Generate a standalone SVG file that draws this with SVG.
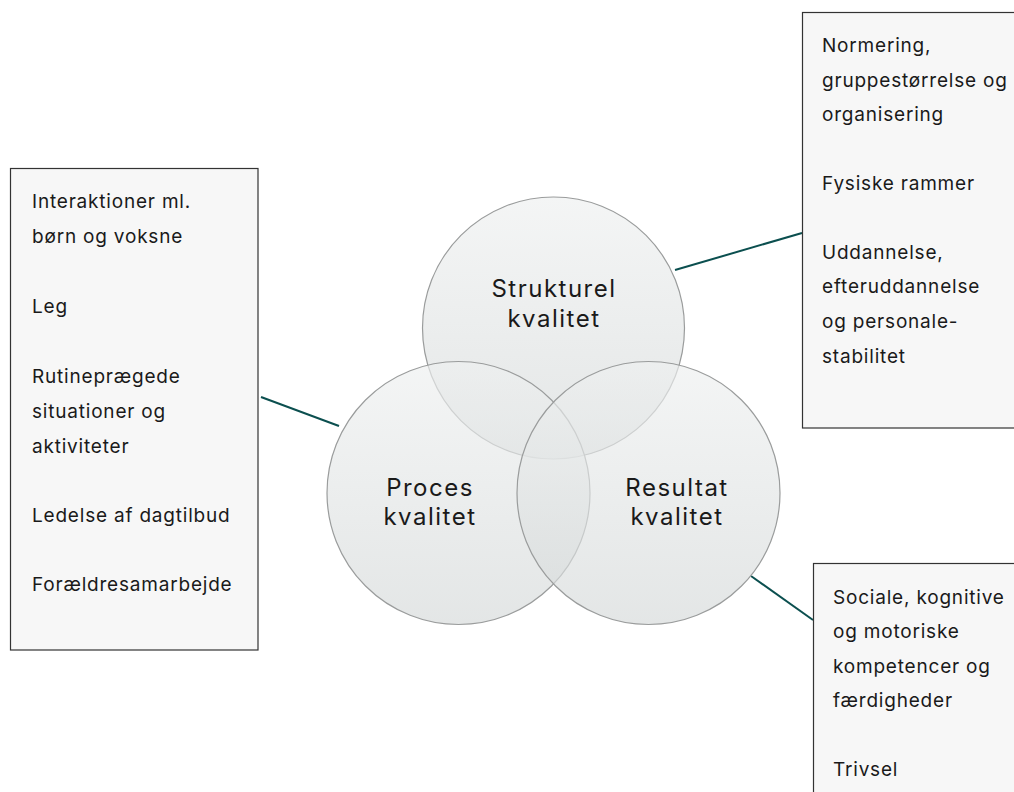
<svg xmlns="http://www.w3.org/2000/svg" width="1014" height="792" viewBox="0 0 1014 792">
<defs>
<linearGradient id="cg" x1="0" y1="0" x2="0" y2="1">
<stop offset="0" stop-color="#eef0f0"/>
<stop offset="1" stop-color="#d5d9d9"/>
</linearGradient>
<style>
.box{fill:#f7f7f7;stroke:#333;stroke-width:1.2}
.circ{fill:url(#cg);fill-opacity:0.66;stroke:#9a9c9c;stroke-width:1.2}
.bt{font-family:Inter,"Liberation Sans",sans-serif;font-size:19px;letter-spacing:0.8px;fill:#1a1a1a}
.ct{font-family:Inter,"Liberation Sans",sans-serif;font-size:24px;fill:#1a1a1a;text-anchor:middle;letter-spacing:1.5px}
.conn{stroke:#0b4f4f;stroke-width:2;fill:none}
</style>
</defs>
<rect width="1014" height="792" fill="#ffffff"/>
<g id="connectors">
<line class="conn" x1="261" y1="397" x2="339" y2="426"/>
<line class="conn" x1="675" y1="270" x2="802" y2="233"/>
<line class="conn" x1="751" y1="576" x2="813" y2="620"/>
</g>
<g id="strukturel">
<circle class="circ" cx="553.5" cy="328" r="131"/>
</g>
<g id="proces">
<circle class="circ" cx="458.5" cy="493" r="131.5"/>
</g>
<g id="resultat">
<circle class="circ" cx="648.5" cy="493" r="131.5"/>
</g>
<g id="labels">
<text class="ct" x="554" y="297">Strukturel</text>
<text class="ct" x="554" y="327">kvalitet</text>
<text class="ct" x="430" y="496">Proces</text>
<text class="ct" x="430" y="525">kvalitet</text>
<text class="ct" x="677" y="496">Resultat</text>
<text class="ct" x="677" y="525">kvalitet</text>
</g>
<g id="box-proces">
<rect class="box" x="10.5" y="168.5" width="247.5" height="481.5"/>
<text class="bt" x="32" y="208">Interaktioner ml.</text>
<text class="bt" x="32" y="243">børn og voksne</text>
<text class="bt" x="32" y="313">Leg</text>
<text class="bt" x="32" y="383">Rutineprægede</text>
<text class="bt" x="32" y="418">situationer og</text>
<text class="bt" x="32" y="453">aktiviteter</text>
<text class="bt" x="32" y="522">Ledelse af dagtilbud</text>
<text class="bt" x="32" y="591">Forældresamarbejde</text>
</g>
<g id="box-strukturel">
<rect class="box" x="802.5" y="12.5" width="220" height="415.5"/>
<text class="bt" x="822" y="52">Normering,</text>
<text class="bt" x="822" y="87">gruppestørrelse og</text>
<text class="bt" x="822" y="121">organisering</text>
<text class="bt" x="822" y="190">Fysiske rammer</text>
<text class="bt" x="822" y="259">Uddannelse,</text>
<text class="bt" x="822" y="293">efteruddannelse</text>
<text class="bt" x="822" y="328">og personale-</text>
<text class="bt" x="822" y="363">stabilitet</text>
</g>
<g id="box-resultat">
<rect class="box" x="813.5" y="563.5" width="210" height="240"/>
<text class="bt" x="833" y="604">Sociale, kognitive</text>
<text class="bt" x="833" y="638">og motoriske</text>
<text class="bt" x="833" y="673">kompetencer og</text>
<text class="bt" x="833" y="707">færdigheder</text>
<text class="bt" x="833" y="776">Trivsel</text>
</g>
</svg>
